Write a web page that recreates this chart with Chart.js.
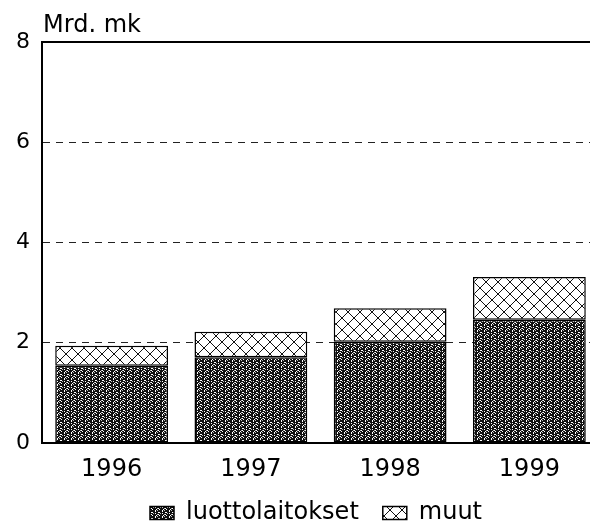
<!DOCTYPE html>
<html>
<head>
<meta charset="utf-8">
<script src="https://cdn.jsdelivr.net/npm/chart.js@4/dist/chart.umd.min.js"></script>
<style>
  html, body { margin: 0; padding: 0; background: #fff; }
  #wrap { width: 590px; height: 523px; position: relative; }
</style>
</head>
<body>
<div id="wrap"><canvas id="c" width="590" height="523"></canvas></div>
<script>
// ---- data ----
const years = ['1996', '1997', '1998', '1999'];
const luottolaitokset = [1.54, 1.71, 2.02, 2.46];
const muut = [0.40, 0.51, 0.67, 0.85];
const yTicks = [0, 2, 4, 6, 8];
const unitLabel = 'Mrd. mk';
const seriesNames = ['luottolaitokset', 'muut'];

// ---- patterns ----
function darkPattern() {
  const c = document.createElement('canvas');
  c.width = 7; c.height = 6;
  const g = c.getContext('2d');
  g.fillStyle = '#111';
  g.fillRect(0, 0, 7, 6);
  g.fillStyle = '#fff';
  const pts = [[1,0],[1,1],[4,2],[5,2],[1,3],[4,4],[2,5],[5,5]];
  pts.forEach(p => g.fillRect(p[0], p[1], 1, 1));
  g.fillStyle = '#bbb';
  [[3,0],[6,3],[3,4]].forEach(p => g.fillRect(p[0], p[1], 1, 1));
  return g.createPattern(c, 'repeat');
}
function crossPattern() {
  const s = 12;
  const c = document.createElement('canvas');
  c.width = s; c.height = s;
  const g = c.getContext('2d');
  g.fillStyle = '#fff';
  g.fillRect(0, 0, s, s);
  g.strokeStyle = '#111';
  g.lineWidth = 1;
  g.beginPath();
  g.moveTo(0, 0); g.lineTo(s, s);
  g.moveTo(s, 0); g.lineTo(0, s);
  g.stroke();
  return g.createPattern(c, 'repeat');
}

const FONT = 'DejaVu Sans';

// layout tweaks: widen x scale slightly past the canvas edge, give the
// x labels room to draw, nudge legend down
const layoutPlugin = {
  id: 'layoutTweak',
  afterLayout(chart) {
    const x = chart.scales.x;
    x.right = x.right + 9;
    x.width = x.right - x.left;
    x.bottom = x.bottom + 40;
    x.height = x.bottom - x.top;
    x.configure();
    const lg = chart.legend;
    if (lg) { lg.top += 12; lg.bottom += 12; }
  }
};

const topLinePlugin = {
  id: 'topLine',
  afterDraw(chart) {
    const ctx = chart.ctx;
    const y = chart.scales.y;
    const a = chart.chartArea;
    ctx.save();
    ctx.strokeStyle = '#000';
    ctx.lineWidth = 2;
    ctx.beginPath();
    const py = y.getPixelForValue(yTicks[yTicks.length - 1]);
    ctx.moveTo(a.left, py);
    ctx.lineTo(a.right, py);
    ctx.stroke();
    ctx.fillStyle = '#000';
    ctx.font = '24px "' + FONT + '"';
    ctx.textBaseline = 'alphabetic';
    ctx.textAlign = 'left';
    ctx.fillText(unitLabel, a.left + 1, 32);
    ctx.restore();
  }
};

new Chart(document.getElementById('c'), {
  type: 'bar',
  data: {
    labels: years,
    datasets: [
      {
        label: seriesNames[0],
        data: luottolaitokset,
        backgroundColor: darkPattern(),
        borderColor: '#000',
        borderWidth: 1.5,
        borderSkipped: false
      },
      {
        label: seriesNames[1],
        data: muut,
        backgroundColor: crossPattern(),
        borderColor: '#000',
        borderWidth: 1.5,
        borderSkipped: false
      }
    ]
  },
  options: {
    responsive: false,
    animation: false,
    devicePixelRatio: 1,
    layout: { padding: { top: 42, left: 0, right: 0, bottom: 0 } },
    datasets: { bar: { categoryPercentage: 1, barPercentage: 0.81 } },
    scales: {
      x: {
        stacked: true,
        afterFit(scale) { scale.height = 22; },
        grid: { display: false, drawTicks: false },
        border: { display: true, color: '#000', width: 2 },
        ticks: { color: '#000', font: { family: FONT, size: 24 }, padding: 12 }
      },
      y: {
        stacked: true,
        min: 0,
        max: 8,
        afterBuildTicks(scale) { scale.ticks = yTicks.map(v => ({ value: v })); },
        afterFit(scale) { scale.width = 42; },
        grid: {
          drawTicks: false,
          color: ctx => (ctx.tick && (ctx.tick.value === 0 || ctx.tick.value === 8)) ? 'rgba(0,0,0,0)' : '#222',
          lineWidth: 1
        },
        border: { display: true, color: '#000', width: 2, dash: [7, 6] },
        ticks: { color: '#000', font: { family: FONT, size: 22 }, padding: 12 }
      }
    },
    plugins: {
      legend: {
        position: 'bottom',
        fullSize: false,
        labels: {
          color: '#000',
          font: { family: FONT, size: 24 },
          boxWidth: 24,
          boxHeight: 13,
          padding: 24
        }
      },
      tooltip: { enabled: false },
      title: { display: false }
    }
  },
  plugins: [layoutPlugin, topLinePlugin]
});
</script>
</body>
</html>
